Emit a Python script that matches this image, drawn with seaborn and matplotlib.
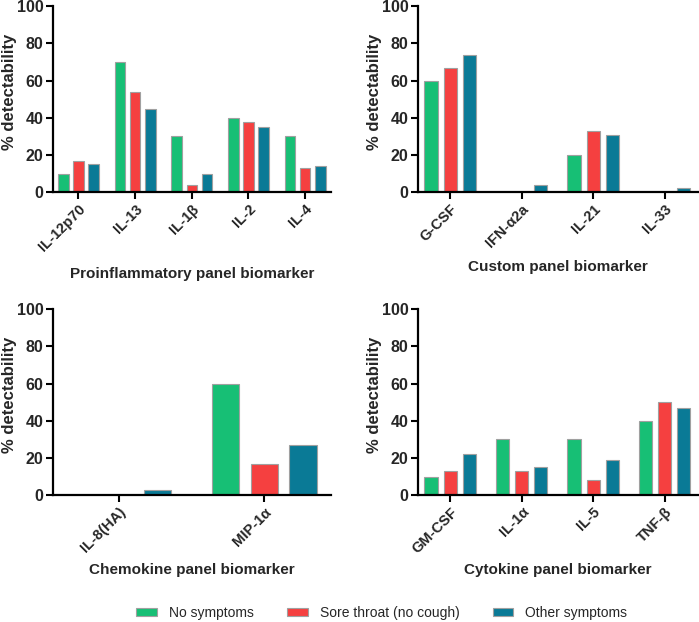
import pandas as pd
import numpy as np
import matplotlib.pyplot as plt
import seaborn as sns

# groups and colours
groups = ["No symptoms", "Sore throat (no cough)", "Other symptoms"]
colors = ["#17BF75", "#F54040", "#0A7A96"]

# proinflammatory panel
pro_markers = ["IL-12p70", "IL-13", "IL-1β", "IL-2", "IL-4"]
pro_none = [10, 70, 30, 40, 30]
pro_sore = [17, 54, 4, 38, 13]
pro_other = [15, 45, 10, 35, 14]

# custom panel
cus_markers = ["G-CSF", "IFN-α2a", "IL-21", "IL-33"]
cus_none = [60, 0, 20, 0]
cus_sore = [67, 0, 33, 0]
cus_other = [74, 4, 31, 2]

# chemokine panel
che_markers = ["IL-8(HA)", "MIP-1α"]
che_none = [0, 60]
che_sore = [0, 16.5]
che_other = [2.5, 27]

# cytokine panel
cyt_markers = ["GM-CSF", "IL-1α", "IL-5", "TNF-β"]
cyt_none = [10, 30, 30, 40]
cyt_sore = [13, 13, 8, 50]
cyt_other = [22, 15, 19, 47]


def long_df(markers, a, b, c):
    rows = []
    for vals, g in zip([a, b, c], groups):
        for m, v in zip(markers, vals):
            rows.append({"marker": m, "group": g, "value": v})
    return pd.DataFrame(rows)


panels = [
    (long_df(pro_markers, pro_none, pro_sore, pro_other), pro_markers,
     "Proinflammatory panel biomarker", [0.0758, 0.691, 0.398, 0.299], -0.40),
    (long_df(cus_markers, cus_none, cus_sore, cus_other), cus_markers,
     "Custom panel biomarker", [0.598, 0.691, 0.400, 0.299], -0.365),
    (long_df(che_markers, che_none, che_sore, che_other), che_markers,
     "Chemokine panel biomarker", [0.0758, 0.204, 0.398, 0.299], -0.365),
    (long_df(cyt_markers, cyt_none, cyt_sore, cyt_other), cyt_markers,
     "Cytokine panel biomarker", [0.598, 0.204, 0.400, 0.299], -0.365),
]

sns.set_theme(style="ticks")
plt.rcParams["font.family"] = ["Liberation Sans", "DejaVu Sans"]

fig = plt.figure(figsize=(6.99, 6.22), dpi=100)
handles = None
for df, markers, xlabel, rect, xlab_y in panels:
    ax = fig.add_axes(rect)
    sns.barplot(data=df, x="marker", y="value", hue="group", order=markers,
                hue_order=groups, palette=colors, saturation=1,
                width=0.8, gap=0.3, edgecolor="#a0a0a0", linewidth=0.8, ax=ax)
    if handles is None:
        handles, labels = ax.get_legend_handles_labels()
    ax.get_legend().remove()
    n = len(markers)
    ax.set_xlim(-0.45, n - 1 + 0.46)
    ax.set_ylim(0, 100)
    ax.set_yticks([0, 20, 40, 60, 80, 100])
    sns.despine(ax=ax)
    for s in ["left", "bottom"]:
        ax.spines[s].set_linewidth(1.6)
        ax.spines[s].set_color("black")
    ax.tick_params(axis="both", length=5, width=1.5, color="black", pad=2)
    for t in ax.get_yticklabels():
        t.set_fontsize(11.5)
        t.set_fontweight("bold")
    for t in ax.get_xticklabels():
        t.set_fontsize(10.5)
        t.set_fontweight("bold")
        t.set_rotation(45)
        t.set_ha("right")
        t.set_rotation_mode("anchor")
    ax.set_ylabel("% detectability", fontsize=12, fontweight="bold")
    ax.set_xlabel(xlabel, fontsize=11, fontweight="bold")
    ax.yaxis.set_label_coords(-0.128, 0.54)
    ax.xaxis.set_label_coords(0.5, xlab_y)

fig.legend(handles, groups, loc="center", bbox_to_anchor=(0.546, 0.0145),
           ncol=3, frameon=False, fontsize=10, handlelength=1.5,
           handleheight=0.5, handletextpad=0.85, columnspacing=2.4)

fig.savefig("out.png", dpi=100)
